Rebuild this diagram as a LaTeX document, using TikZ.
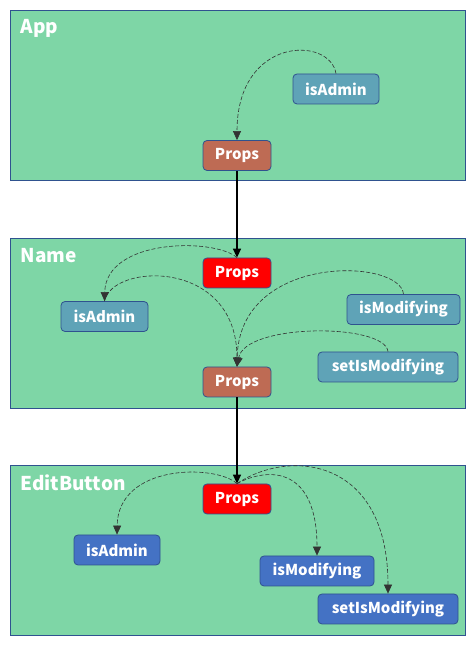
\documentclass[tikz,border=0pt]{standalone}
\usepackage{fontspec}
\setmainfont{Noto Sans CJK JP}
\usetikzlibrary{arrows.meta}

\definecolor{panelgreen}{RGB}{126,214,166}
\definecolor{edgeblue}{RGB}{47,82,143}
\definecolor{propsbrown}{RGB}{190,107,84}
\definecolor{stateteal}{RGB}{95,163,183}
\definecolor{propblue}{RGB}{68,114,196}

\tikzset{
  panel/.style={draw=edgeblue, fill=panelgreen, line width=0.8pt},
  paneltitle/.style={anchor=west, text=white, font=\fontsize{19}{19}\selectfont\bfseries},
  box/.style={draw=edgeblue, rounded corners=4pt, line width=0.8pt, text=white,
    font=\fontsize{15}{15}\selectfont\bfseries, inner sep=0pt, minimum height=30pt},
  propsout/.style={box, fill=propsbrown, minimum width=68pt},
  propsin/.style={box, fill=red, minimum width=68pt},
  statebox/.style={box, fill=stateteal},
  propbox/.style={box, fill=propblue},
  flow/.style={dashed, dash pattern=on 4pt off 2pt, draw=black!80, line width=0.6pt,
    -{Triangle[length=9pt,width=8pt]}},
  pass/.style={line width=1.6pt, -{Triangle[length=9pt,width=8pt]}},
}

\begin{document}
\begin{tikzpicture}[x=1pt, y=1pt]
    \useasboundingbox (0,0) rectangle (475,648);

    % panels
    \draw[panel] (10,468) rectangle (465,638);
    \draw[panel] (10,240) rectangle (465,410);
    \draw[panel] (10,13) rectangle (465,183);
    \node[paneltitle] (tapp) at (17,620) {App};
    \node[paneltitle] (tname) at (17,392) {Name};
    \node[paneltitle] (tedit) at (17,165) {EditButton};

    % App
    \node[propsout] (appprops) at (237,492.5) {Props};
    \node[statebox, minimum width=86pt] (appadmin) at (336,559) {isAdmin};

    % Name
    \node[propsin] (nameprops) at (237,375) {Props};
    \node[statebox, minimum width=87pt] (nameadmin) at (104.5,331.5) {isAdmin};
    \node[statebox, minimum width=113pt] (namemod) at (403.5,338.5) {isModifying};
    \node[statebox, minimum width=140pt] (nameset) at (388,281) {setIsModifying};
    \node[propsout] (nameout) at (237,266) {Props};

    % EditButton
    \node[propsin] (editprops) at (237,149) {Props};
    \node[propbox, minimum width=86pt] (editadmin) at (117,98) {isAdmin};
    \node[propbox, minimum width=114pt] (editmod) at (317,77) {isModifying};
    \node[propbox, minimum width=140pt] (editset) at (388,39) {setIsModifying};

    % props passed down
    \draw[pass] (appprops.south) -- (nameprops.north);
    \draw[pass] (nameout.south) -- (editprops.north);

    % data flow
    \draw[flow] (appadmin.north) .. controls (330,612) and (237,612) .. (appprops.north);

    \draw[flow] (nameprops.north) .. controls (215,410) and (106,410) .. (nameadmin.north);
    \draw[flow] (nameadmin.north) .. controls (112,385) and (237,390) .. (nameout.north);
    \draw[flow] (namemod.north) .. controls (400,390) and (239,395) .. (nameout.north);
    \draw[flow] (nameset.north) .. controls (385,325) and (245,325) .. (nameout.north);

    \draw[flow] (editprops.north) .. controls (215,184) and (118,184) .. (editadmin.north);
    \draw[flow] (editprops.north) .. controls (270,182) and (317,180) .. (editmod.north);
    \draw[flow] (editprops.north) .. controls (290,200) and (388,190) .. (editset.north);
\end{tikzpicture}
\end{document}
